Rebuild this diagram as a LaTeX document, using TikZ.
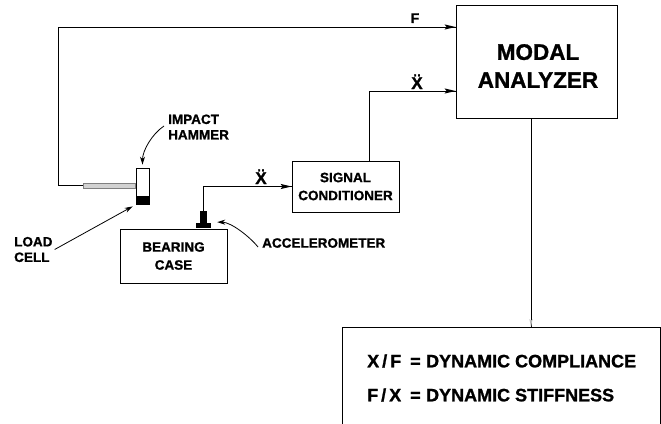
\documentclass[tikz,border=0pt]{standalone}
\usepackage{fontspec}
\setmainfont{Liberation Sans}[BoldFeatures={FakeBold=1.2}]
\usetikzlibrary{arrows.meta}
\tikzset{
  box/.style={draw, line width=0.9pt, inner sep=0pt, align=center,
    font=\bfseries\fontsize{13.5}{18}\selectfont},
  wire/.style={line width=0.7pt},
  lbl/.style={font=\bfseries\fontsize{13.5}{15.5}\selectfont, align=left, inner sep=0pt},
  qty/.style={font=\bfseries\fontsize{17}{17}\selectfont, inner sep=0pt, anchor=base},
  pointer/.style={line width=0.8pt, -{Stealth[length=8pt,width=5pt]}},
  res/.style={font=\bfseries\fontsize{18}{18}\selectfont, inner sep=0pt, anchor=west},
  solid part/.style={fill=black, inner sep=0pt},
}
\begin{document}
\begin{tikzpicture}[x=1pt,y=-1pt]
\useasboundingbox (0,0) rectangle (661,423);
\clip (0,0) rectangle (661,423);

% analyser and result boxes
\node[box, minimum width=161pt, minimum height=113pt] (modal) at (536.5,61.5) {};
\node[font=\bfseries\fontsize{22.5}{28}\selectfont, align=center] (modaltxt) at (538,66) {MODAL\\ANALYZER};
\node[box, minimum width=318pt, minimum height=140pt, anchor=north west] (result) at (342,327) {};
\node[res] (comp) at (367,361) {X\,/\,F\hspace{0.5em}=\hspace{0.3em}DYNAMIC COMPLIANCE};
\node[res] (stiff) at (367,395) {F\,/\,X\hspace{0.5em}=\hspace{0.3em}DYNAMIC STIFFNESS};

% signal conditioner and bearing case
\node[box, minimum width=107pt, minimum height=51pt] (sigcond) at (345.5,186.5) {SIGNAL\\CONDITIONER};
\node[box, minimum width=107pt, minimum height=54pt] (bearing) at (173.5,256) {BEARING\\CASE};

% impact hammer with load cell
\node[draw, line width=0.8pt, minimum width=13pt, minimum height=36pt, inner sep=0pt] (head) at (142.5,186) {};
\fill (head.south west) rectangle ([yshift=8pt]head.south east);
\node[draw=gray, fill=gray!35, line width=0.6pt, minimum width=52pt, minimum height=5pt, inner sep=0pt, anchor=east] (handle) at (136,185.5) {};

% accelerometer on the case
\node[solid part, minimum width=15pt, minimum height=5pt, anchor=south] (accbase) at (bearing.north -| 203.5,0) {};
\node[solid part, minimum width=7pt, minimum height=12pt, anchor=south] (accel) at (accbase.north) {};

% signal paths
\coordinate (fturn) at (58,27);
\coordinate (xturn) at (369,91);
\coordinate (aturn) at (203.5,186.5);
\coordinate (outx) at (531,0);
\coordinate (tipF) at (fturn -| modal.west);
\coordinate (tipX) at (xturn -| modal.west);
\coordinate (tipA) at (aturn -| sigcond.west);
\coordinate (tipR) at (result.north -| outx);
\draw[wire] (handle.west) -| (fturn) -- (tipF);
\draw[wire] (sigcond.north -| xturn) |- (tipX);
\draw[wire] (accel.north) |- (tipA);
\draw[wire] (modal.south -| outx) -- (tipR);

% long narrow arrowheads on the signal paths
\foreach \t in {tipF,tipX,tipA}
  \fill (\t) -- ([xshift=-11pt,yshift=2.6pt]\t) -- ([xshift=-9pt]\t) -- ([xshift=-11pt,yshift=-2.6pt]\t) -- cycle;
\fill[gray!55] (tipR) -- ([xshift=1.6pt,yshift=8pt]tipR) -- ([yshift=6.5pt]tipR) -- ([xshift=-1.6pt,yshift=8pt]tipR) -- cycle;

% signal names
\node[qty, font=\bfseries\fontsize{14}{14}\selectfont] (flbl) at (415,23) {F};
\node[qty] (xlbl1) at (417,89) {\"X};
\node[qty] (xlbl2) at (261,184) {\"X};

% part labels
\node[lbl, anchor=west] (hamlbl) at (168,127) {IMPACT\\HAMMER};
\node[lbl, anchor=west] (loadlbl) at (14,249.5) {LOAD\\CELL};
\node[lbl, anchor=west] (acclbl) at (262,243) {ACCELEROMETER};
\draw[pointer] ([xshift=-4pt,yshift=1pt]hamlbl.west) .. controls +(-12,8) and +(0,-14) .. ([yshift=3pt]head.north);
\draw[pointer] ([xshift=2pt]loadlbl.east) -- ([xshift=-3pt,yshift=-2pt]head.south west);
\draw[pointer] ([xshift=-4pt,yshift=-4pt]acclbl.west) .. controls +(-8,-10) and +(14,0) .. ([xshift=6pt,yshift=1pt]accbase.north east);
\end{tikzpicture}
\end{document}
